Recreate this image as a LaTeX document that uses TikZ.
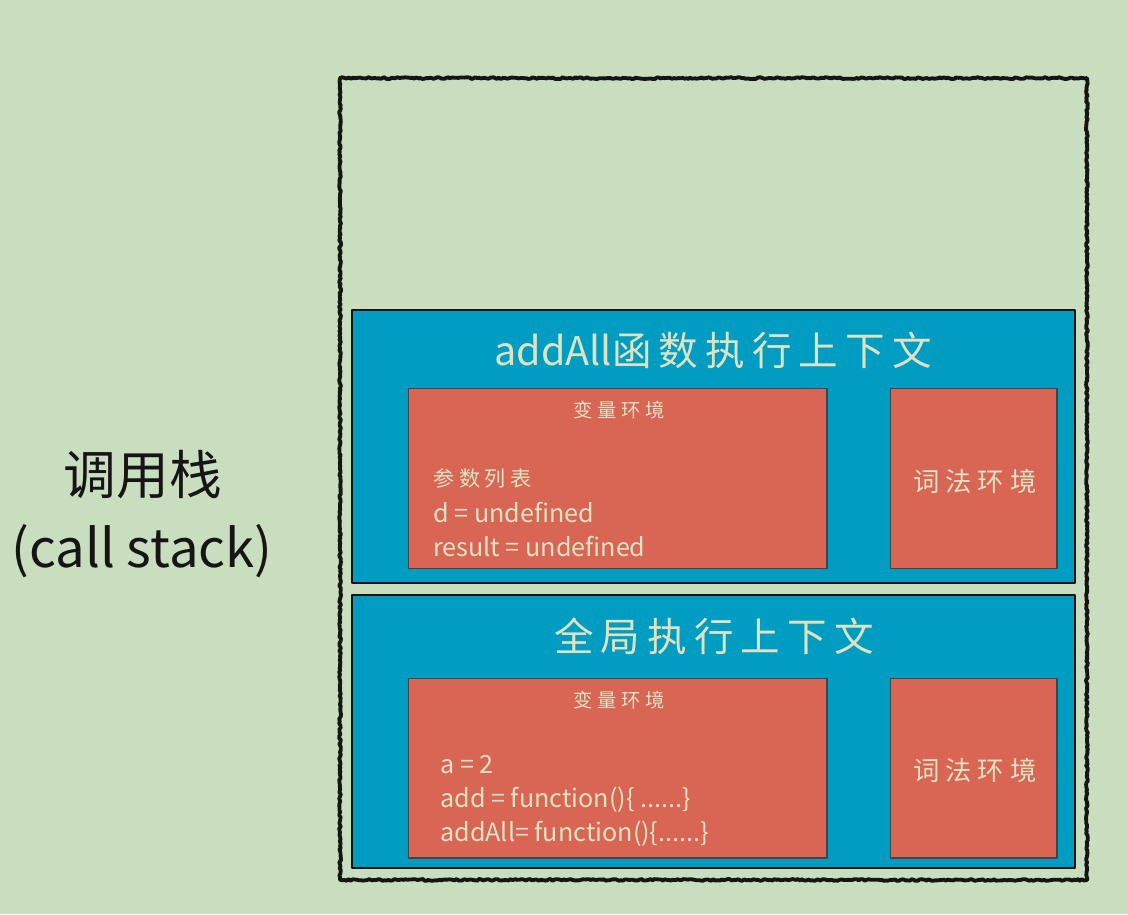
\documentclass[tikz,border=0pt]{standalone}
\usepackage{fontspec}
\setmainfont{Noto Sans CJK SC}
\usepackage{tikz}
\usetikzlibrary{positioning,decorations.pathmorphing}
\definecolor{paper}{HTML}{C9DEBF}
\definecolor{ctxblue}{HTML}{009CC2}
\definecolor{envred}{HTML}{D96554}
\definecolor{cream}{HTML}{DCE3C2}
\definecolor{ink}{HTML}{151515}
\newcommand{\spaced}[1]{{\addfontfeature{LetterSpace=18}#1}}
\tikzset{
    every picture/.style={line cap=round,line join=round},
    stackbox/.style={draw=ink,line width=2.2pt,
      decorate,decoration={random steps,segment length=1.2pt,amplitude=0.5pt},
      minimum width=14.94cm,minimum height=16.04cm,inner sep=0pt},
    ctxframe/.style={draw=ink,fill=ctxblue,line width=1.1pt,
      minimum width=14.46cm,minimum height=5.46cm,inner sep=0pt},
    envbox/.style={draw=ink!80,fill=envred,line width=0.6pt,
      minimum height=3.6cm,inner sep=0pt},
    ctxtitle/.style={text=cream,font=\fontsize{22.5}{26}\selectfont},
    envtitle/.style={text=cream,font=\fontsize{11}{13}\selectfont\addfontfeature{LetterSpace=25}},
    lextitle/.style={text=cream,font=\fontsize{15}{18}\selectfont\addfontfeature{LetterSpace=22}},
    argtitle/.style={text=cream,font=\fontsize{12}{14}\selectfont\addfontfeature{LetterSpace=22},
      anchor=west,inner sep=0pt},
    envline/.style={text=cream,font=\fontsize{14.3}{17}\selectfont,anchor=west,inner sep=0pt},
    sidelabel/.style={text=ink,font=\fontsize{30}{36}\selectfont}
}
\begin{document}
\begin{tikzpicture}[x=0.02cm,y=-0.02cm]
  \useasboundingbox[fill=paper] (0,0) rectangle (1128,914);
  % the stack
  \node[stackbox] (stack) at (713.5,479) {};
  \node[sidelabel] (stackcn) at (143,475) {调用栈};
  \node[sidelabel] (stacken) at (142,551) {(call stack)};
  % addAll frame
  \node[ctxframe] (addall) at (713.5,446.5) {};
  \node[ctxtitle] (addalltitle) at (713,350) {addAll\spaced{函数执行上下文}};
  \node[envbox,minimum width=8.38cm] (addallvar) at (617.5,478.5) {};
  \node[envbox,minimum width=3.34cm] (addalllex) at (973.5,478.5) {};
  \node[envtitle] (addallvartitle) at (619,410) {变量环境};
  \node[lextitle] (addalllextitle) at (975,481) {词法环境};
  \node[argtitle] (args) at (433,478) {参数列表};
  \node[envline] (vard) at (433,512) {d = undefined};
  \node[envline] (varres) at (433,546) {result = undefined};
  % global frame
  \node[ctxframe] (global) at (713.5,731.5) {};
  \node[ctxtitle] (globaltitle) at (714,636) {\spaced{全局执行上下文}};
  \node[envbox,minimum width=8.38cm] (globalvar) at (617.5,768) {};
  \node[envbox,minimum width=3.34cm] (globallex) at (973.5,768) {};
  \node[envtitle] (globalvartitle) at (619,700) {变量环境};
  \node[lextitle] (globallextitle) at (975,770) {词法环境};
  \node[envline] (vara) at (440,765) {a = 2};
  \node[envline] (varadd) at (440,800) {add = function()\{ ......\}};
  \node[envline] (varaddall) at (440,834) {addAll= function()\{......\}};
\end{tikzpicture}
\end{document}
